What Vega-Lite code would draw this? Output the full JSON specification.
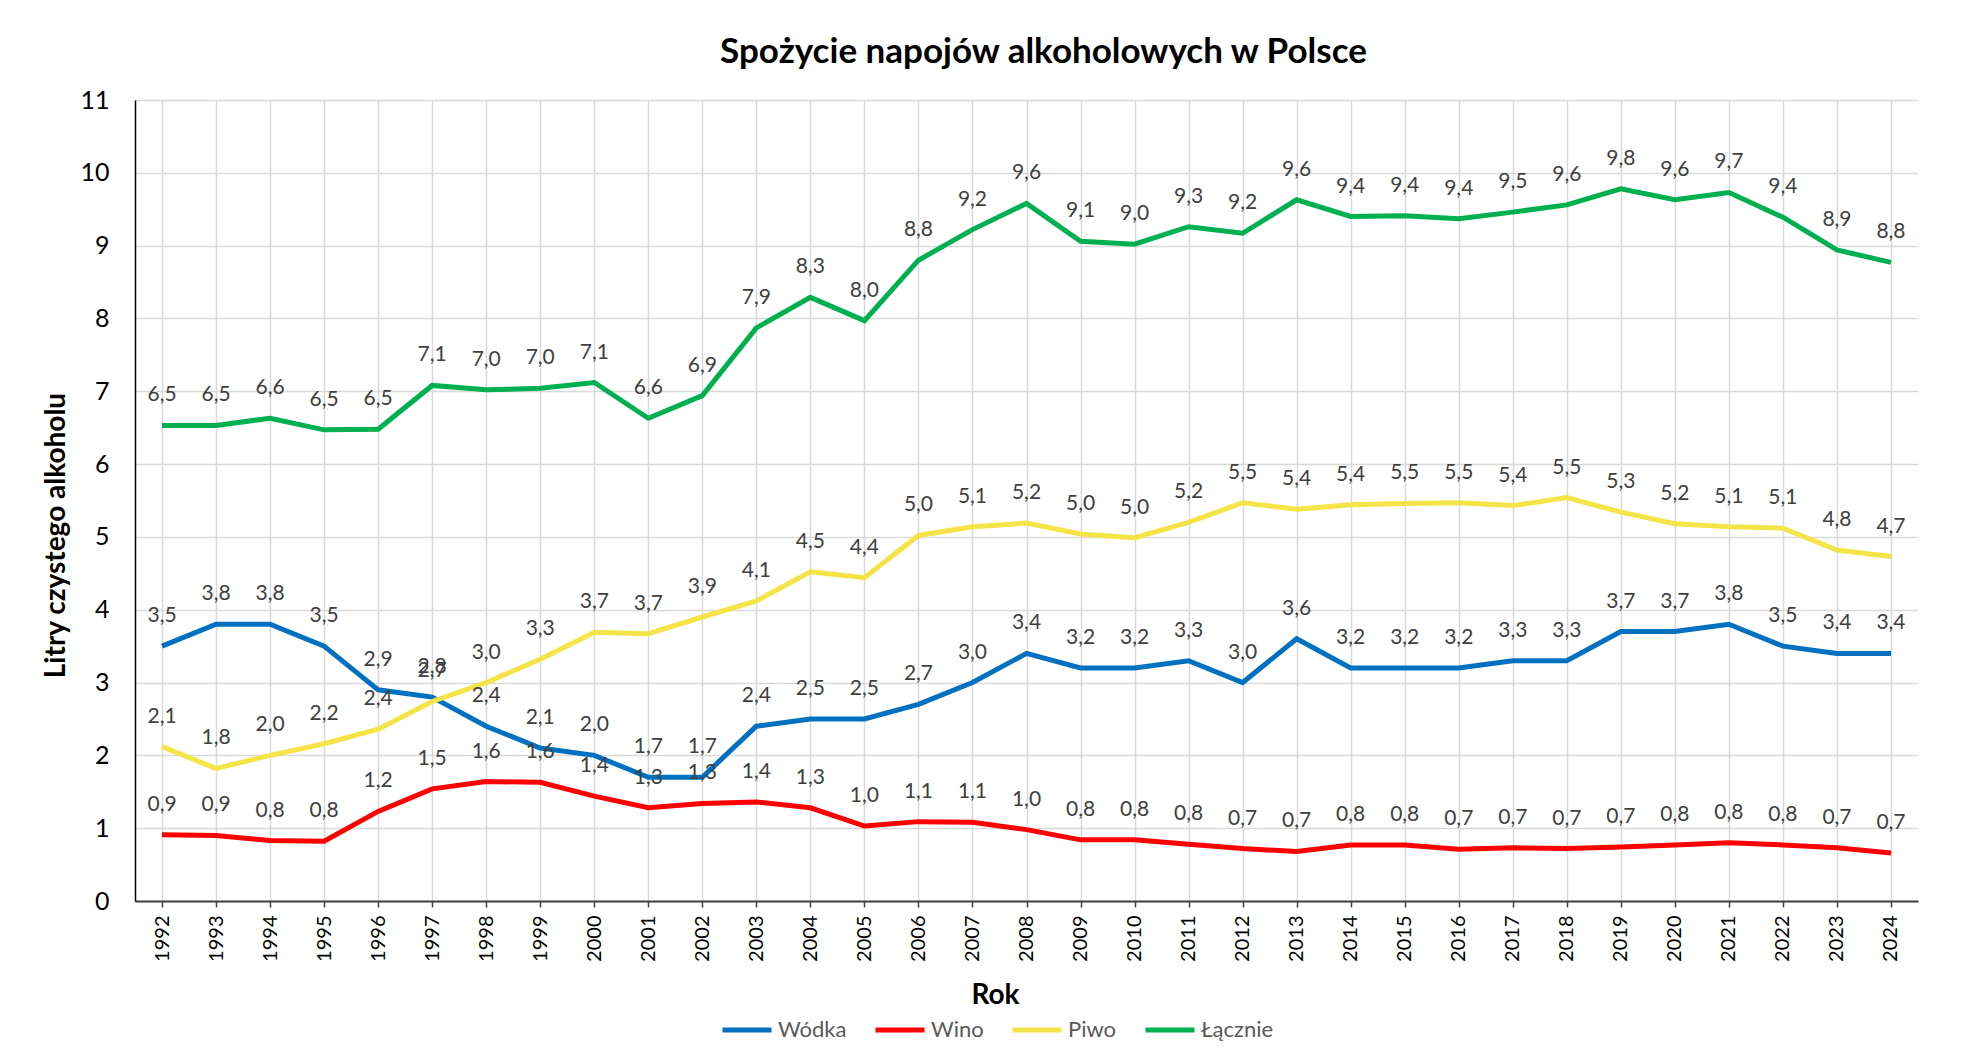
{
  "$schema": "https://vega.github.io/schema/vega-lite/v6.json",
  "width": 1783,
  "height": 801,
  "autosize": {"type": "none"},
  "padding": {"left": 135, "top": 100, "right": 45, "bottom": 161},
  "background": "white",
  "title": {
    "text": "Spożycie napojów alkoholowych w Polsce",
    "fontSize": 35,
    "fontWeight": "bold",
    "font": "Lato",
    "color": "#000000",
    "anchor": "middle",
    "dx": 17,
    "offset": 18
  },
  "data": {
    "values": [
      {"rok": "1992", "seria": "Wódka", "v": 3.5}, {"rok": "1993", "seria": "Wódka", "v": 3.8}, {"rok": "1994", "seria": "Wódka", "v": 3.8}, {"rok": "1995", "seria": "Wódka", "v": 3.5}, {"rok": "1996", "seria": "Wódka", "v": 2.9}, {"rok": "1997", "seria": "Wódka", "v": 2.8}, {"rok": "1998", "seria": "Wódka", "v": 2.4}, {"rok": "1999", "seria": "Wódka", "v": 2.1}, {"rok": "2000", "seria": "Wódka", "v": 2.0}, {"rok": "2001", "seria": "Wódka", "v": 1.7}, {"rok": "2002", "seria": "Wódka", "v": 1.7}, {"rok": "2003", "seria": "Wódka", "v": 2.4}, {"rok": "2004", "seria": "Wódka", "v": 2.5}, {"rok": "2005", "seria": "Wódka", "v": 2.5}, {"rok": "2006", "seria": "Wódka", "v": 2.7}, {"rok": "2007", "seria": "Wódka", "v": 3.0}, {"rok": "2008", "seria": "Wódka", "v": 3.4}, {"rok": "2009", "seria": "Wódka", "v": 3.2}, {"rok": "2010", "seria": "Wódka", "v": 3.2}, {"rok": "2011", "seria": "Wódka", "v": 3.3}, {"rok": "2012", "seria": "Wódka", "v": 3.0}, {"rok": "2013", "seria": "Wódka", "v": 3.6}, {"rok": "2014", "seria": "Wódka", "v": 3.2}, {"rok": "2015", "seria": "Wódka", "v": 3.2}, {"rok": "2016", "seria": "Wódka", "v": 3.2}, {"rok": "2017", "seria": "Wódka", "v": 3.3}, {"rok": "2018", "seria": "Wódka", "v": 3.3}, {"rok": "2019", "seria": "Wódka", "v": 3.7}, {"rok": "2020", "seria": "Wódka", "v": 3.7}, {"rok": "2021", "seria": "Wódka", "v": 3.8}, {"rok": "2022", "seria": "Wódka", "v": 3.5}, {"rok": "2023", "seria": "Wódka", "v": 3.4}, {"rok": "2024", "seria": "Wódka", "v": 3.4},
      {"rok": "1992", "seria": "Wino", "v": 0.91}, {"rok": "1993", "seria": "Wino", "v": 0.9}, {"rok": "1994", "seria": "Wino", "v": 0.83}, {"rok": "1995", "seria": "Wino", "v": 0.82}, {"rok": "1996", "seria": "Wino", "v": 1.23}, {"rok": "1997", "seria": "Wino", "v": 1.54}, {"rok": "1998", "seria": "Wino", "v": 1.64}, {"rok": "1999", "seria": "Wino", "v": 1.63}, {"rok": "2000", "seria": "Wino", "v": 1.44}, {"rok": "2001", "seria": "Wino", "v": 1.28}, {"rok": "2002", "seria": "Wino", "v": 1.34}, {"rok": "2003", "seria": "Wino", "v": 1.36}, {"rok": "2004", "seria": "Wino", "v": 1.28}, {"rok": "2005", "seria": "Wino", "v": 1.03}, {"rok": "2006", "seria": "Wino", "v": 1.09}, {"rok": "2007", "seria": "Wino", "v": 1.08}, {"rok": "2008", "seria": "Wino", "v": 0.98}, {"rok": "2009", "seria": "Wino", "v": 0.84}, {"rok": "2010", "seria": "Wino", "v": 0.84}, {"rok": "2011", "seria": "Wino", "v": 0.78}, {"rok": "2012", "seria": "Wino", "v": 0.72}, {"rok": "2013", "seria": "Wino", "v": 0.68}, {"rok": "2014", "seria": "Wino", "v": 0.77}, {"rok": "2015", "seria": "Wino", "v": 0.77}, {"rok": "2016", "seria": "Wino", "v": 0.71}, {"rok": "2017", "seria": "Wino", "v": 0.73}, {"rok": "2018", "seria": "Wino", "v": 0.72}, {"rok": "2019", "seria": "Wino", "v": 0.74}, {"rok": "2020", "seria": "Wino", "v": 0.77}, {"rok": "2021", "seria": "Wino", "v": 0.8}, {"rok": "2022", "seria": "Wino", "v": 0.77}, {"rok": "2023", "seria": "Wino", "v": 0.73}, {"rok": "2024", "seria": "Wino", "v": 0.66},
      {"rok": "1992", "seria": "Piwo", "v": 2.12}, {"rok": "1993", "seria": "Piwo", "v": 1.82}, {"rok": "1994", "seria": "Piwo", "v": 2.0}, {"rok": "1995", "seria": "Piwo", "v": 2.16}, {"rok": "1996", "seria": "Piwo", "v": 2.36}, {"rok": "1997", "seria": "Piwo", "v": 2.74}, {"rok": "1998", "seria": "Piwo", "v": 3.0}, {"rok": "1999", "seria": "Piwo", "v": 3.32}, {"rok": "2000", "seria": "Piwo", "v": 3.69}, {"rok": "2001", "seria": "Piwo", "v": 3.67}, {"rok": "2002", "seria": "Piwo", "v": 3.9}, {"rok": "2003", "seria": "Piwo", "v": 4.12}, {"rok": "2004", "seria": "Piwo", "v": 4.52}, {"rok": "2005", "seria": "Piwo", "v": 4.44}, {"rok": "2006", "seria": "Piwo", "v": 5.02}, {"rok": "2007", "seria": "Piwo", "v": 5.14}, {"rok": "2008", "seria": "Piwo", "v": 5.19}, {"rok": "2009", "seria": "Piwo", "v": 5.04}, {"rok": "2010", "seria": "Piwo", "v": 4.99}, {"rok": "2011", "seria": "Piwo", "v": 5.2}, {"rok": "2012", "seria": "Piwo", "v": 5.47}, {"rok": "2013", "seria": "Piwo", "v": 5.38}, {"rok": "2014", "seria": "Piwo", "v": 5.44}, {"rok": "2015", "seria": "Piwo", "v": 5.46}, {"rok": "2016", "seria": "Piwo", "v": 5.47}, {"rok": "2017", "seria": "Piwo", "v": 5.43}, {"rok": "2018", "seria": "Piwo", "v": 5.54}, {"rok": "2019", "seria": "Piwo", "v": 5.34}, {"rok": "2020", "seria": "Piwo", "v": 5.18}, {"rok": "2021", "seria": "Piwo", "v": 5.14}, {"rok": "2022", "seria": "Piwo", "v": 5.12}, {"rok": "2023", "seria": "Piwo", "v": 4.82}, {"rok": "2024", "seria": "Piwo", "v": 4.73},
      {"rok": "1992", "seria": "Łącznie", "v": 6.53}, {"rok": "1993", "seria": "Łącznie", "v": 6.53}, {"rok": "1994", "seria": "Łącznie", "v": 6.63}, {"rok": "1995", "seria": "Łącznie", "v": 6.47}, {"rok": "1996", "seria": "Łącznie", "v": 6.48}, {"rok": "1997", "seria": "Łącznie", "v": 7.08}, {"rok": "1998", "seria": "Łącznie", "v": 7.02}, {"rok": "1999", "seria": "Łącznie", "v": 7.04}, {"rok": "2000", "seria": "Łącznie", "v": 7.12}, {"rok": "2001", "seria": "Łącznie", "v": 6.63}, {"rok": "2002", "seria": "Łącznie", "v": 6.94}, {"rok": "2003", "seria": "Łącznie", "v": 7.87}, {"rok": "2004", "seria": "Łącznie", "v": 8.29}, {"rok": "2005", "seria": "Łącznie", "v": 7.97}, {"rok": "2006", "seria": "Łącznie", "v": 8.8}, {"rok": "2007", "seria": "Łącznie", "v": 9.22}, {"rok": "2008", "seria": "Łącznie", "v": 9.58}, {"rok": "2009", "seria": "Łącznie", "v": 9.06}, {"rok": "2010", "seria": "Łącznie", "v": 9.02}, {"rok": "2011", "seria": "Łącznie", "v": 9.26}, {"rok": "2012", "seria": "Łącznie", "v": 9.17}, {"rok": "2013", "seria": "Łącznie", "v": 9.63}, {"rok": "2014", "seria": "Łącznie", "v": 9.4}, {"rok": "2015", "seria": "Łącznie", "v": 9.41}, {"rok": "2016", "seria": "Łącznie", "v": 9.37}, {"rok": "2017", "seria": "Łącznie", "v": 9.46}, {"rok": "2018", "seria": "Łącznie", "v": 9.56}, {"rok": "2019", "seria": "Łącznie", "v": 9.78}, {"rok": "2020", "seria": "Łącznie", "v": 9.63}, {"rok": "2021", "seria": "Łącznie", "v": 9.73}, {"rok": "2022", "seria": "Łącznie", "v": 9.39}, {"rok": "2023", "seria": "Łącznie", "v": 8.94}, {"rok": "2024", "seria": "Łącznie", "v": 8.77}
    ]
  },
  "encoding": {
    "x": {
      "field": "rok",
      "type": "ordinal",
      "sort": null,
      "scale": {"type": "point", "padding": 0.5},
      "axis": {
        "title": "Rok",
        "titleFontSize": 28,
        "titleFontWeight": "bold",
        "titleFont": "Lato",
        "titleColor": "#000000",
        "titleX": 860,
        "titleY": 94,
        "titleBaseline": "middle",
        "labelAngle": 270,
        "labelAlign": "right",
        "labelBaseline": "middle",
        "labelFontSize": 20,
        "labelFont": "Lato",
        "labelColor": "#000000",
        "labelPadding": 8,
        "grid": true,
        "gridColor": "#D9D9D9",
        "gridWidth": 1.5,
        "domainColor": "#404040",
        "domainWidth": 2,
        "ticks": true,
        "tickColor": "#404040",
        "tickSize": 6,
        "tickWidth": 1.5
      }
    },
    "y": {
      "field": "v",
      "type": "quantitative",
      "scale": {"domain": [0, 11], "nice": false, "zero": true},
      "axis": {
        "title": "Litry czystego alkoholu",
        "titleFontSize": 28,
        "titleFontWeight": "bold",
        "titleFont": "Lato",
        "titleColor": "#000000",
        "titleX": -79,
        "titleY": 435,
        "titleAngle": 270,
        "titleAlign": "center",
        "titleBaseline": "middle",
        "values": [0, 1, 2, 3, 4, 5, 6, 7, 8, 9, 10, 11],
        "format": "d",
        "labelFontSize": 25,
        "labelFont": "Lato",
        "labelColor": "#000000",
        "labelPadding": 26,
        "ticks": false,
        "grid": true,
        "gridColor": "#D9D9D9",
        "gridWidth": 1.5,
        "domainColor": "#000000",
        "domainWidth": 1.5
      }
    }
  },
  "layer": [
    {
      "mark": {"type": "line", "strokeWidth": 5, "strokeJoin": "miter", "strokeCap": "butt"},
      "encoding": {
        "color": {
          "field": "seria",
          "type": "nominal",
          "scale": {"domain": ["Wódka", "Wino", "Piwo", "Łącznie"], "range": ["#0070C0", "#FF0000", "#F5E447", "#00B050"]},
          "legend": {
            "title": null,
            "orient": "none",
            "direction": "horizontal",
            "legendX": 585,
            "legendY": 903,
            "symbolType": "stroke",
            "symbolSize": 2400,
            "symbolStrokeWidth": 5,
            "labelFontSize": 22,
            "labelFont": "Lato",
            "labelColor": "#595959",
            "labelOffset": 4,
            "columnPadding": 18
          }
        }
      }
    },
    {
      "mark": {"type": "text", "dy": -30, "fontSize": 21, "font": "Lato", "color": "#404040"},
      "encoding": {
        "text": {"field": "v", "type": "quantitative", "format": ".1f"},
        "detail": {"field": "seria", "type": "nominal"}
      }
    }
  ],
  "config": {
    "locale": {"number": {"decimal": ",", "thousands": " ", "grouping": [3], "currency": ["", " zł"]}},
    "view": {"stroke": null}
  }
}
